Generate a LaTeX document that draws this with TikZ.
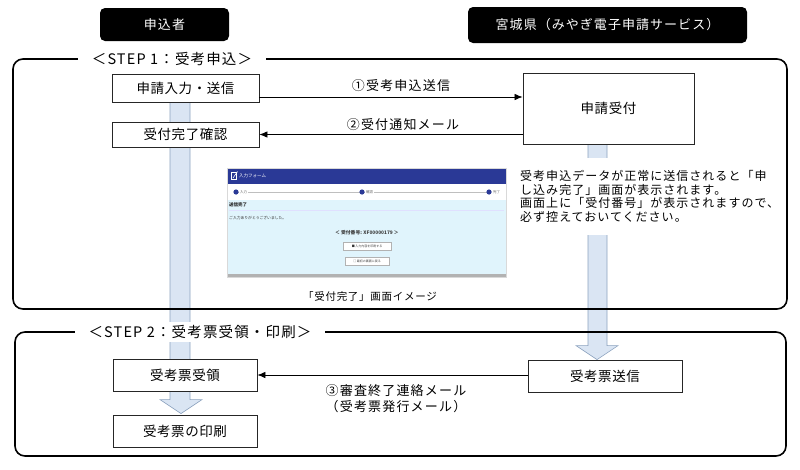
\documentclass[tikz,border=0pt]{standalone}
\usepackage{fontspec}
\setmainfont{Noto Sans CJK JP}
\usetikzlibrary{arrows.meta,calc}
\pgfdeclarelayer{bg}
\pgfdeclarelayer{mid}
\pgfsetlayers{bg,mid,main}
\definecolor{arrowfill}{RGB}{218,229,243}
\definecolor{arrowline}{RGB}{140,162,190}
\definecolor{scrblue}{RGB}{42,57,150}
\definecolor{scrlight}{RGB}{224,244,252}
\newcommand{\jfs}[3]{\fontsize{#1}{#2}\selectfont\addfontfeature{LetterSpace=#3}}
\tikzset{
  box/.style={draw=black!85, line width=0.8pt, fill=white, inner sep=0pt, font=\jfs{13.5}{15}{4}},
  hdr/.style={fill=black, rounded corners=5pt, text=white, inner sep=0pt, font=\jfs{13}{15}{8}},
  frame/.style={line width=1.6pt, rounded corners=10pt},
  steplabel/.style={fill=white, inner xsep=14pt, inner ysep=3pt, font=\jfs{14.5}{16}{8}},
  conn/.style={line width=0.7pt, -{Latex[length=8pt,width=6.5pt]}},
  bigarrow/.style={fill=arrowfill, draw=arrowline, line width=0.6pt},
  lbl/.style={font=\jfs{13}{16}{9}, inner sep=1pt, align=center},
  tiny/.style={inner sep=0pt, anchor=west},
  btn/.style={draw=black!30, fill=white, line width=0.3pt, inner sep=0pt, text=black!75, font=\fontsize{3}{3}\selectfont}
}
\begin{document}
\begin{tikzpicture}[x=1pt,y=-1pt]
\useasboundingbox (0,0) rectangle (800,469);
% headers
\node[hdr, minimum width=129pt, minimum height=33pt] (h1) at (164.5,24.5) {申込者};
\node[hdr, minimum width=279pt, minimum height=36pt] (h2) at (607.5,25) {宮城県（みやぎ電子申請サービス）};
% boxes
\node[box, minimum width=147pt, minimum height=28pt] (in1) at (185.5,88) {申請入力・送信};
\node[box, minimum width=147pt, minimum height=25pt] (kakunin) at (185.5,134.5) {受付完了確認};
\node[box, minimum width=171pt, minimum height=71pt] (uke) at (608.5,108.5) {申請受付};
\node[box, minimum width=144pt, minimum height=32pt] (juryo) at (185,375) {受考票受領};
\node[box, minimum width=144pt, minimum height=32pt] (insatsu) at (185,431) {受考票の印刷};
\node[box, minimum width=154pt, minimum height=32pt] (soushin) at (605,376) {受考票送信};
% big arrows
\begin{pgfonlayer}{bg}
\draw[bigarrow] ($(in1.south)+(-15.5,0)$) -- ($(in1.south)+(4.5,0)$)
  -- ($(insatsu.north)+(5,-15)$) -- ($(insatsu.north)+(17,-15)$)
  -- ($(insatsu.north)+(-4,-1)$) -- ($(insatsu.north)+(-25,-15)$)
  -- ($(insatsu.north)+(-15,-15)$) -- cycle;
\draw[bigarrow] ($(uke.south)+(-20.5,0)$) -- ($(uke.south)+(-1.5,0)$)
  -- ($(soushin.north)+(2,-14)$) -- ($(soushin.north)+(13,-14)$)
  -- ($(soushin.north)+(-8,0)$) -- ($(soushin.north)+(-29,-14)$)
  -- ($(soushin.north)+(-17,-14)$) -- cycle;
\end{pgfonlayer}
% frames
\begin{pgfonlayer}{mid}
\draw[frame] (13,59) rectangle (787,309);
\draw[frame] (15,332) rectangle (786,456);
\end{pgfonlayer}
\node[steplabel] (s1) at (172,59) {＜STEP 1：受考申込＞};
\node[steplabel] (s2) at (200,332) {＜STEP 2：受考票受領・印刷＞};
% explanation text
\node[anchor=west, fill=white, inner xsep=0pt, minimum height=77pt, align=left,
      font=\jfs{12}{13.5}{8.5}] (note) at (520,196.5)
  {受考申込データが正常に送信されると「申\\し込み完了」画面が表示されます。\\画面上に「受付番号」が表示されますので、\\必ず控えておいてください。};
% screenshot image
\fill[white] (227,168) rectangle (506,277);
\fill[scrblue] (227,168) rectangle (506,184);
\draw[white, line width=0.5pt] (231,172) rectangle (236,179);
\draw[white, line width=0.6pt] (233,178) -- (237.5,171.5);
\node[tiny, text=white, font=\fontsize{4.5}{5}\selectfont] (sh) at (239,176) {入力フォーム};
\draw[black!25, line width=0.5pt] (238,192) -- (487,192);
\foreach \cx/\t in {236/入力, 362/確認, 489/完了}{
  \fill[scrblue] (\cx,192) circle (2.6pt);
  \node[tiny, fill=white, inner xsep=1pt, text=black!60, font=\fontsize{3.5}{4}\selectfont] at (\cx+3,192) {\t};
}
\fill[scrlight] (227,200) rectangle (506,274);
\node[tiny, text=black!85, font=\fontsize{4.5}{5}\selectfont\bfseries] (ss) at (229,205) {送信完了};
\draw[blue!12, line width=0.5pt] (229,210.5) -- (504,210.5);
\node[tiny, text=black!80, font=\fontsize{3.8}{4}\selectfont] (sa) at (229,218) {ご入力ありがとうございました。};
\node[inner sep=0pt, text=black!75, font=\fontsize{4.8}{5}\selectfont\bfseries] (sn) at (367,233) {＜ 受付番号: XF00000179 ＞};
\node[btn, minimum width=48pt, minimum height=8pt] (b1) at (367,246) {\textcolor{black!80}{■}\,入力内容を印刷する};
\node[btn, minimum width=44pt, minimum height=8pt] (b2) at (367,261) {\textcolor{black!80}{□}\,最初の画面に戻る};
\fill[black!30] (227,274) rectangle (506,277);
\draw[black!15, line width=0.4pt] (227,168) rectangle (506,277);
\node[font=\jfs{10.5}{12}{7}, inner sep=0pt] (cap) at (370,297) {「受付完了」画面イメージ};
% connectors
\draw[conn] ([yshift=-9pt]in1.east) -- ([yshift=-9pt]in1.east -| uke.west);
\draw[conn] (kakunin.east -| uke.west) -- (kakunin.east);
\draw[conn] (juryo.east -| soushin.west) -- (juryo.east);
\node[lbl] (l1) at (401,86) {①受考申込送信};
\node[lbl] (l2) at (403,125) {②受付通知メール};
\node[lbl] (l3) at (396,399) {③審査終了連絡メール\\（受考票発行メール）};
\end{tikzpicture}
\end{document}
